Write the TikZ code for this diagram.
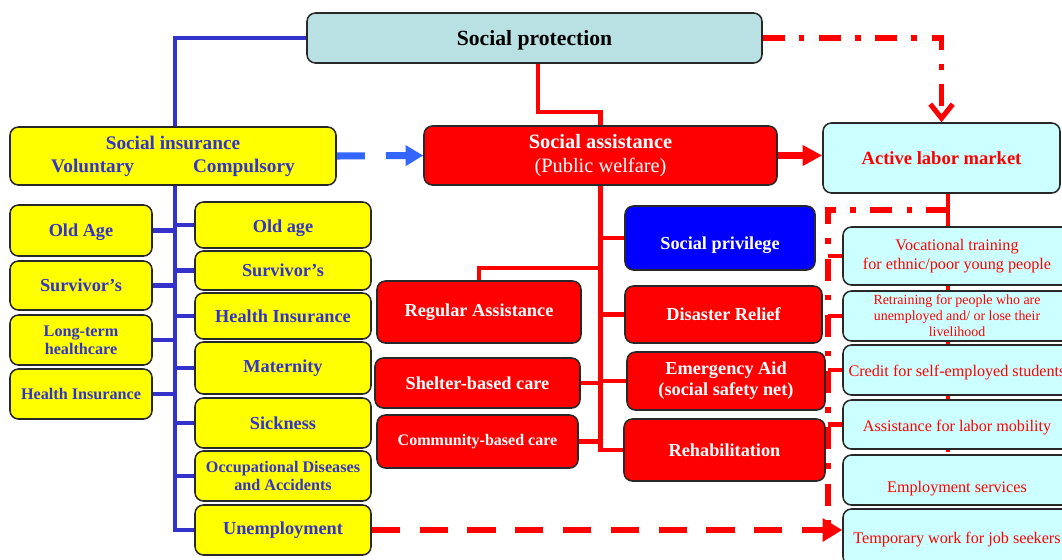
\documentclass[tikz,border=0pt]{standalone}
\usepackage{fontspec}
\setmainfont{Liberation Serif}
\usetikzlibrary{arrows.meta, backgrounds}

\definecolor{protcol}{RGB}{185,224,227}
\definecolor{jobcol}{RGB}{204,255,255}
\definecolor{insyellow}{RGB}{255,255,0}
\definecolor{insblue}{RGB}{51,51,204}
\definecolor{dashblue}{RGB}{51,102,255}
\definecolor{aidred}{RGB}{255,0,0}
\definecolor{privblue}{RGB}{0,0,255}
\definecolor{rimgray}{RGB}{40,40,40}

\tikzset{
    box/.style={draw=rimgray, line width=1.1pt, rounded corners=6pt, inner sep=1pt, align=center},
    wh/.style 2 args={minimum width=#1*0.025cm, minimum height=#2*0.025cm},
    insbox/.style={box, fill=insyellow, text=insblue, font=\bfseries\fontsize{13}{15.5}\selectfont},
    inssmall/.style={insbox, font=\bfseries\fontsize{11.5}{13}\selectfont},
    aidbox/.style={box, fill=aidred, text=white, font=\bfseries\fontsize{13}{15}\selectfont},
    jobbox/.style={box, fill=jobcol, text=aidred, font=\fontsize{11.5}{13.5}\selectfont},
    bluetree/.style={draw=insblue, line width=3.2pt},
    redtree/.style={draw=aidred, line width=3pt},
    reddashdot/.style={draw=aidred, line width=3.6pt, dash pattern=on 15.5pt off 10pt on 4pt off 10.5pt}
}
\newcommand{\lowtext}[2]{\raisebox{-#1}[\height][\depth]{#2}}

\begin{document}
\begin{tikzpicture}[x=0.025cm, y=-0.025cm]
                \useasboundingbox (0,0) rectangle (1062,559);
                \clip (0,0) rectangle (1062,559);
                % top row
                \node[box, fill=protcol, wh={455}{50}, font=\bfseries\fontsize{15.4}{18}\selectfont] (prot) at (534.5,38) {\lowtext{1.5pt}{Social protection}};
                \node[insbox, wh={326}{58}, font=\bfseries\fontsize{13.7}{16.3}\selectfont] (insur) at (173,156) {Social insurance\\Voluntary\hspace{42pt}Compulsory};
                \node[aidbox, wh={353}{59}, font=\fontsize{14.5}{17}\selectfont] (assist) at (600.5,155.5) {\textbf{Social assistance}\\(Public welfare)};
                \node[jobbox, wh={237}{70}, font=\bfseries\fontsize{13.2}{15}\selectfont] (market) at (941.5,158) {Active labor market};
                % voluntary
                \node[insbox, wh={142}{51}] (vold) at (81,230.5) {\lowtext{1.5pt}{Old Age}};
                \node[insbox, wh={142}{49}] (vsurv) at (81,285.5) {Survivor’s};
                \node[inssmall, wh={142}{50}] (vlong) at (81,340) {Long-term\\healthcare};
                \node[inssmall, wh={142}{50}] (vhealth) at (81,394) {Health Insurance};
                % compulsory
                \node[insbox, wh={176}{46}] (cold) at (283,225) {\lowtext{2pt}{Old age}};
                \node[insbox, wh={176}{39}] (csurv) at (283,270.5) {Survivor’s};
                \node[insbox, wh={176}{46}] (chealth) at (283,316) {Health Insurance};
                \node[insbox, wh={176}{52}] (cmat) at (283,368) {Maternity};
                \node[insbox, wh={176}{50}] (csick) at (283,423) {Sickness};
                \node[inssmall, wh={176}{50}, font=\bfseries\fontsize{11.5}{13.3}\selectfont] (coccup) at (283,476) {Occupational Diseases\\and Accidents};
                \node[insbox, wh={176}{50}] (cunemp) at (283,530) {Unemployment};
                % social assistance
                \node[aidbox, fill=privblue, wh={190}{64}] (priv) at (720,238) {\lowtext{5pt}{Social privilege}};
                \node[aidbox, wh={204}{62}] (regular) at (479,312) {Regular Assistance};
                \node[aidbox, wh={197}{57}] (disaster) at (723.5,314.5) {Disaster Relief};
                \node[aidbox, wh={205}{50}] (shelter) at (477.5,383) {Shelter-based care};
                \node[aidbox, wh={198}{58}] (emerg) at (726,381) {Emergency Aid\\(social safety net)};
                \node[aidbox, wh={201}{53}, font=\bfseries\fontsize{11.4}{13}\selectfont] (community) at (477.5,441.5) {Community-based care};
                \node[aidbox, wh={201}{62}] (rehab) at (724.5,450) {Rehabilitation};
                % labor market
                \node[jobbox, wh={228}{58}] (voc) at (957,256) {Vocational training\\for ethnic/poor young people};
                \node[jobbox, wh={228}{50}, font=\fontsize{9.9}{11.3}\selectfont] (retrain) at (957,316) {Retraining for people who are\\unemployed and/ or lose their\\livelihood};
                \node[jobbox, wh={228}{50}] (credit) at (957,370) {\lowtext{1.5pt}{Credit for self-employed students}};
                \node[jobbox, wh={228}{49}] (assistm) at (957,424.5) {\lowtext{2pt}{Assistance for labor mobility}};
                \node[jobbox, wh={228}{50}] (employ) at (957,480) {\lowtext{6pt}{Employment services}};
                \node[jobbox, wh={228}{56}] (temp) at (957,537) {\lowtext{2pt}{Temporary work for job seekers}};

                \coordinate (trunk) at (175,530);
                \coordinate (redtop) at (538,112);
                \coordinate (regjoint) at (600.5,268);
                \coordinate (spine) at (948,452);
                \coordinate (ddcorner) at (828,210);
                \coordinate (ddfoot) at (828,530);

                \begin{scope}[on background layer]
                    \draw[bluetree] (prot.west) -| (trunk) -- (cunemp.west);
                    \foreach \b in {cold,csurv,chealth,cmat,csick,coccup}
                        \draw[bluetree] (\b.west) -- (trunk |- \b.west);
                    \foreach \b in {vold,vsurv,vlong,vhealth}
                        \draw[bluetree] (\b.east) -- (trunk |- \b.east);
                    \draw[redtree] (redtop |- prot.south) -- (redtop) -| (assist.north);
                    \draw[redtree] (assist.south) -- (assist.south |- rehab.west) -- (rehab.west);
                    \draw[redtree] (regjoint) -| (regular.north);
                    \foreach \b in {priv,disaster,emerg}
                        \draw[redtree] (\b.west) -- (assist.south |- \b.west);
                    \foreach \b in {shelter,community}
                        \draw[redtree] (\b.east) -- (assist.south |- \b.east);
                    \draw[redtree] (spine |- market.south) -- (spine);
                    \draw[reddashdot] (spine |- ddcorner) -- (ddcorner) -- (ddfoot);
                    \foreach \b in {voc,retrain,credit,assistm}
                        \draw[redtree] (\b.west) -- (ddcorner |- \b.west);
                \end{scope}

                \draw[dashblue, line width=5pt, dash pattern=on 20pt off 15pt, -{Triangle[length=12.5pt,width=14pt]}] (insur.east) -- (assist.west);
                \draw[aidred, line width=5pt, -{Triangle[length=14pt,width=14pt]}] (assist.east) -- (assist.east -| market.west);
                \draw[reddashdot, -{Straight Barb[length=10pt,width=16pt]}] (prot.east) -| (market.north);
                \draw[aidred, line width=4.5pt, dash pattern=on 20pt off 14pt, -{Triangle[length=14pt,width=16pt]}] (cunemp.east) -- (cunemp.east -| temp.west);
\end{tikzpicture}
\end{document}
